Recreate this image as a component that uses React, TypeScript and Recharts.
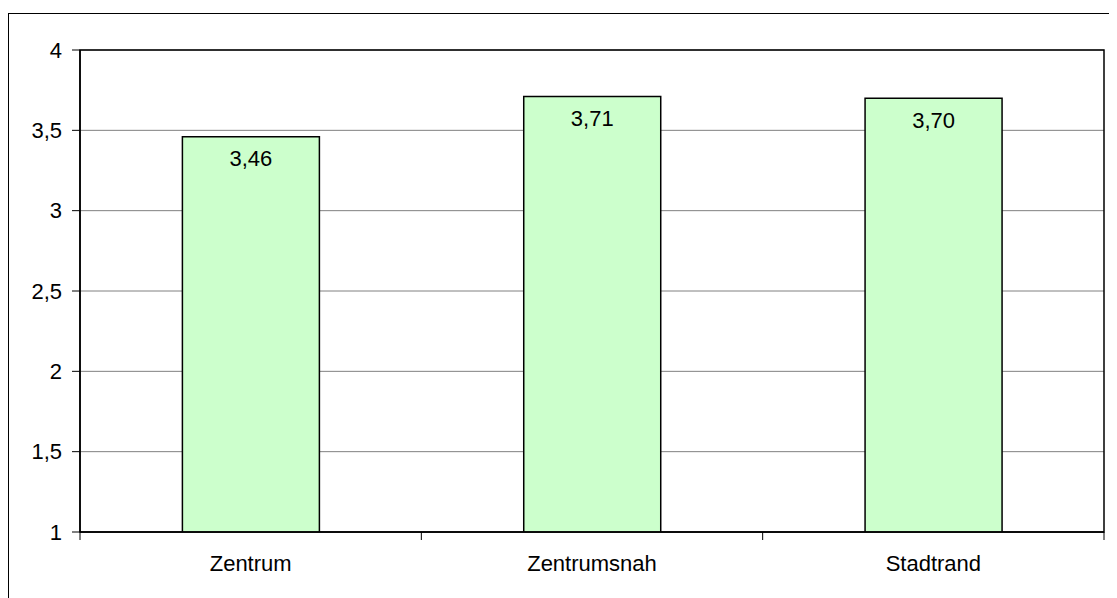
import React from "react";
import {
  BarChart,
  Bar,
  XAxis,
  YAxis,
  CartesianGrid,
  LabelList,
  ReferenceArea,
} from "recharts";

const categories = ["Zentrum", "Zentrumsnah", "Stadtrand"];
const values = [3.46, 3.71, 3.7];
const yTicks = [1, 1.5, 2, 2.5, 3, 3.5, 4];

const data = categories.map((name, i) => ({ name, value: values[i] }));

const FONT = "'Liberation Sans', Arial, sans-serif";
const FS = 22;
const fmt = (v: number) => String(v).replace(".", ",");
const fmt2 = (v: number) => v.toFixed(2).replace(".", ",");

const XTick = (props: any) => {
  const { x, y, payload, index, visibleTicksCount } = props;
  const half = payload && payload.offset ? payload.offset : 1024 / 6;
  const last = index === (visibleTicksCount ?? 3) - 1;
  return (
    <g>
      <line x1={x - half} x2={x - half} y1={y - 8} y2={y} stroke="#000" strokeWidth={1} />
      {last && (
        <line x1={x + half} x2={x + half} y1={y - 8} y2={y} stroke="#000" strokeWidth={1} />
      )}
      <text
        x={x}
        y={y + 31}
        textAnchor="middle"
        fontSize={FS}
        fontFamily={FONT}
        fill="#000"
      >
        {payload.value}
      </text>
    </g>
  );
};

export default function App() {
  return (
    <div style={{ position: "relative", width: 1109, height: 590, overflow: "hidden" }}>
      <div
        style={{
          position: "absolute",
          left: 0,
          top: 5,
          width: 2000,
          height: 2000,
          borderLeft: "1px solid #000",
          borderTop: "1px solid #000",
          boxSizing: "border-box",
        }}
      />
      <div style={{ position: "absolute", left: 0, top: 0 }}>
        <BarChart
          width={1109}
          height={590}
          data={data}
          margin={{ top: 42, right: 13, bottom: 28, left: 12 }}
          barCategoryGap="30%"
        >
          <CartesianGrid horizontal vertical={false} stroke="#808080" strokeWidth={1} />
          <XAxis
            dataKey="name"
            axisLine={{ stroke: "#000", strokeWidth: 1.5 }}
            tickLine={false}
            tick={<XTick />}
            interval={0}
            height={38}
          />
          <YAxis
            domain={[1, 4]}
            ticks={yTicks}
            tickFormatter={fmt}
            width={60}
            tickSize={8}
            tickMargin={10}
            axisLine={{ stroke: "#000", strokeWidth: 1.5 }}
            tickLine={{ stroke: "#000" }}
            tick={{ fontSize: FS, fontFamily: FONT, fill: "#000" }}
            allowDataOverflow
          />
          <Bar
            dataKey="value"
            fill="#CCFFCC"
            stroke="#000"
            strokeWidth={1.5}
            isAnimationActive={false}
          >
            <LabelList
              dataKey="value"
              position="insideTop"
              offset={14}
              formatter={(v: any) => fmt2(Number(v))}
              style={{ fontSize: FS, fontFamily: FONT, fill: "#000" }}
            />
          </Bar>
          <ReferenceArea y1={1} y2={4} fill="none" stroke="#000" strokeWidth={1.5} ifOverflow="visible" />
        </BarChart>
      </div>
    </div>
  );
}
